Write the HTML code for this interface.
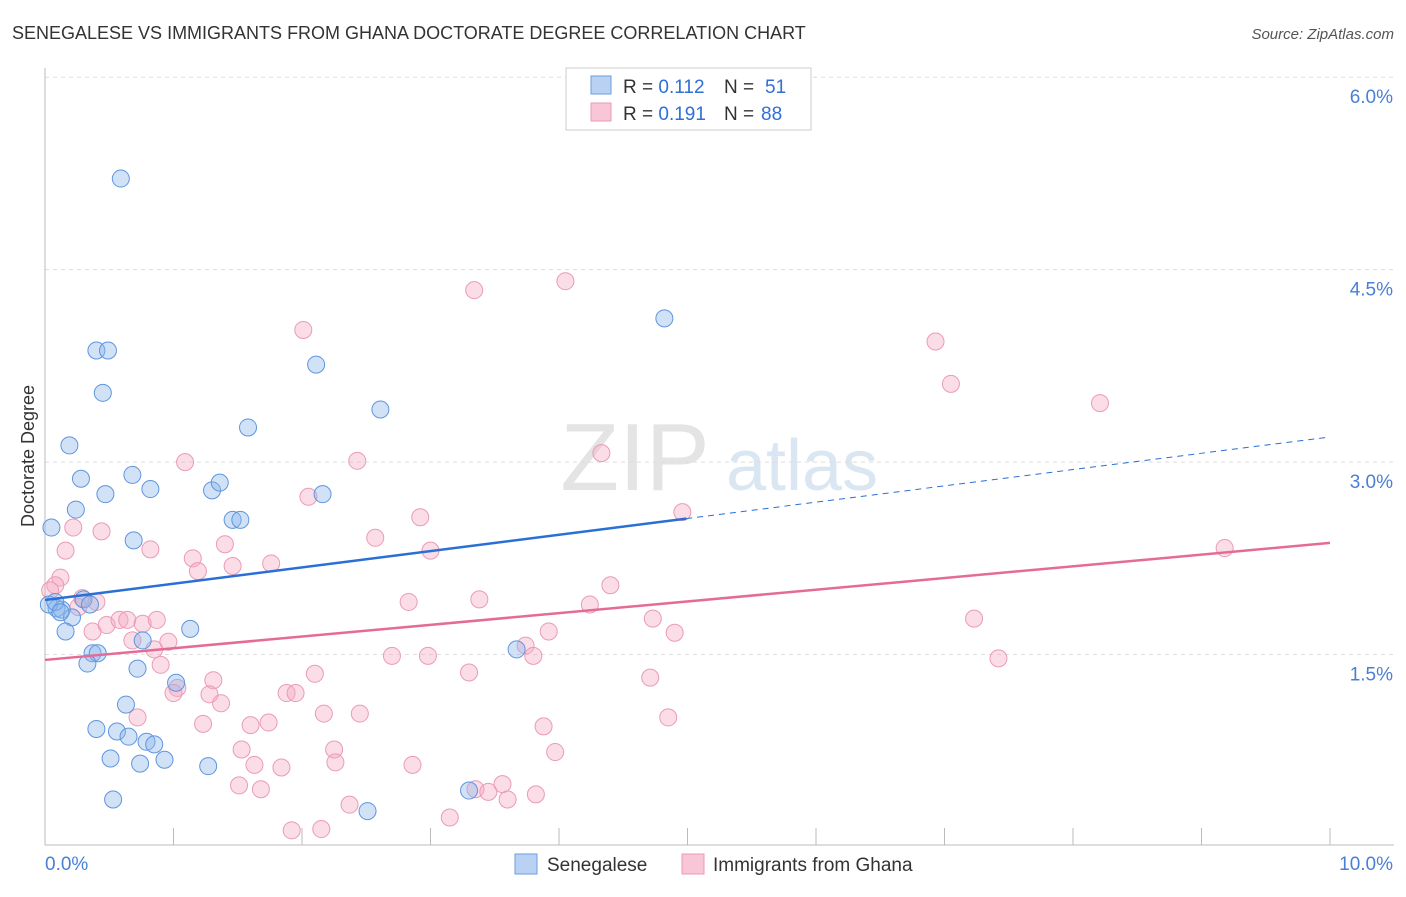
<!DOCTYPE html>
<html><head><meta charset="utf-8"><style>
body{margin:0;background:#fff;font-family:"Liberation Sans",sans-serif}
svg text{font-family:"Liberation Sans",sans-serif}
</style></head><body>
<svg id="c" width="1406" height="892">
<text x="12" y="39" font-size="18" fill="#333">SENEGALESE VS IMMIGRANTS FROM GHANA DOCTORATE DEGREE CORRELATION CHART</text>
<text x="1394" y="39" font-size="15" fill="#555" font-style="italic" text-anchor="end">Source: ZipAtlas.com</text>
<text x="34" y="456" font-size="18" fill="#333" text-anchor="middle" transform="rotate(-90 34 456)">Doctorate Degree</text>
<g><text x="635" y="490" font-size="96" fill="#e4e4e4" font-family="Liberation Serif" text-anchor="middle">ZIP</text><text x="802" y="490" font-size="72" fill="#dbe6f3" text-anchor="middle">atlas</text></g>
<g id="grid"></g><g id="axes"></g><g id="pts"></g><g id="trend"></g>
<g>
<rect x="566" y="68" width="245" height="62" fill="#fff" stroke="#ccc"/>
<rect x="591" y="76" width="20" height="18" fill="#b9d2f3" stroke="#6b9de0"/>
<rect x="591" y="103" width="20" height="18" fill="#f8c6d6" stroke="#eb9bb5"/>
<text x="623" y="93" font-size="19" fill="#333">R = <tspan fill="#2f6fd6">0.112</tspan></text><text x="724" y="93" font-size="19" fill="#333">N =</text><text x="765" y="93" font-size="19" fill="#2f6fd6">51</text>
<text x="623" y="120" font-size="19" fill="#333">R = <tspan fill="#2f6fd6">0.191</tspan></text><text x="724" y="120" font-size="19" fill="#333">N =</text><text x="761" y="120" font-size="19" fill="#2f6fd6">88</text>
</g>
<g>
<rect x="515" y="854" width="22" height="20" fill="#b9d2f3" stroke="#6b9de0"/>
<text x="547" y="871" font-size="19" fill="#333">Senegalese</text>
<rect x="682" y="854" width="22" height="20" fill="#f8c6d6" stroke="#eb9bb5"/>
<text x="713" y="871" font-size="19" fill="#333">Immigrants from Ghana</text>
</g>
</svg>
<script>
const yTicks=[1.5,3.0,4.5,6.0];
const yTickLabels=["1.5%","3.0%","4.5%","6.0%"];
const xTicks=[1,2,3,4,5,6,7,8,9,10];
const blueX=[0.59,0.40,0.49,0.45,0.19,0.28,0.47,0.68,0.82,0.24,0.05,0.69,1.30,1.36,1.46,1.52,1.58,2.11,2.16,2.61,4.82,0.09,0.13,0.30,0.35,0.21,0.16,0.76,1.13,0.37,0.41,0.33,0.72,1.02,0.63,0.40,0.56,0.65,0.79,0.85,0.51,0.74,0.93,1.27,0.53,2.51,3.30,3.67,0.03,0.08,0.12];
const blueY=[5.21,3.87,3.87,3.54,3.13,2.87,2.75,2.90,2.79,2.63,2.49,2.39,2.78,2.84,2.55,2.55,3.27,3.76,2.75,3.41,4.12,1.86,1.85,1.93,1.89,1.79,1.68,1.61,1.70,1.51,1.51,1.43,1.39,1.28,1.11,0.92,0.90,0.86,0.82,0.80,0.69,0.65,0.68,0.63,0.37,0.28,0.44,1.54,1.89,1.91,1.83];
const pinkX=[2.01,3.34,4.05,1.09,2.43,6.93,7.05,8.21,4.33,2.92,2.05,4.96,0.44,0.22,0.16,0.82,1.15,1.40,1.19,1.46,1.76,2.57,3.00,9.18,0.12,0.08,0.04,4.40,4.24,3.38,2.83,0.40,0.29,0.26,0.37,0.48,0.58,0.64,0.76,0.87,0.96,0.68,0.85,0.90,1.31,1.03,1.00,1.28,1.37,1.88,1.95,2.10,2.70,2.98,3.30,3.74,3.80,3.92,4.73,4.90,7.23,7.42,4.71,4.85,0.72,1.23,1.60,1.74,2.17,2.45,3.88,1.53,2.25,2.26,1.63,1.84,2.86,3.97,1.51,1.68,3.35,3.45,3.56,3.60,3.82,2.37,1.92,2.15,3.15];
const pinkY=[4.03,4.34,4.41,3.00,3.01,3.94,3.61,3.46,3.07,2.57,2.73,2.61,2.46,2.49,2.31,2.32,2.25,2.36,2.15,2.19,2.21,2.41,2.31,2.33,2.10,2.04,2.00,2.04,1.89,1.93,1.91,1.91,1.94,1.87,1.68,1.73,1.77,1.77,1.74,1.77,1.60,1.61,1.54,1.42,1.30,1.24,1.20,1.19,1.12,1.20,1.20,1.35,1.49,1.49,1.36,1.57,1.49,1.68,1.78,1.67,1.78,1.47,1.32,1.01,1.01,0.96,0.95,0.97,1.04,1.04,0.94,0.76,0.76,0.66,0.64,0.62,0.64,0.74,0.48,0.45,0.45,0.43,0.49,0.37,0.41,0.33,0.13,0.14,0.23];
const blueTrend=[1.925,3.196], blueSolidEnd=4.99;
const pinkTrend=[1.458,2.37];
const X=v=>45+v*128.5, Y=v=>847-v*128.3;
const NS="http://www.w3.org/2000/svg";
function mk(t,a,p){const e=document.createElementNS(NS,t);for(const k in a)e.setAttribute(k,a[k]);p.appendChild(e);return e;}
const grid=document.getElementById('grid'),axes=document.getElementById('axes'),pts=document.getElementById('pts'),tr=document.getElementById('trend');
yTicks.forEach((t,i)=>{
 const l=mk('line',{x1:45,x2:1394,y1:Y(t),y2:Y(t),stroke:'#ddd','stroke-dasharray':'4,4'},grid);
 
 
 const tx=mk('text',{x:1393,y:Y(t)+26,'font-size':19,fill:'#4a7fd4','text-anchor':'end'},axes);
 tx.textContent=yTickLabels[i];
 
 
});
const ya=mk('line',{x1:45,x2:45,y1:68,y2:845,stroke:'#bbb'},axes);


const xa=mk('line',{x1:45,x2:1394,y1:845,y2:845,stroke:'#bbb'},axes);


xTicks.forEach(t=>{
 const l=mk('line',{x1:X(t),x2:X(t),y1:828,y2:845,stroke:'#bbb'},axes);
 
 
});
const x0=mk('text',{x:45,y:870,'font-size':19,fill:'#4a7fd4'},axes);x0.textContent='0.0%';


const x1=mk('text',{x:1393,y:870,'font-size':19,fill:'#4a7fd4','text-anchor':'end'},axes);x1.textContent='10.0%';


function dots(xs,ys,fill,stroke,name){xs.forEach((v,i)=>{
 const c=mk('circle',{cx:X(v),cy:Y(ys[i]),r:8.5,fill:fill,stroke:stroke,'stroke-width':1},pts);
 
 
});}
dots(pinkX,pinkY,'rgba(244,170,195,0.4)','#eb9bb5','ghana-point');
dots(blueX,blueY,'rgba(140,182,236,0.4)','#5f95de','senegalese-point');
const by=v=>blueTrend[0]+(blueTrend[1]-blueTrend[0])*v/10;
const b1=mk('line',{x1:X(0),y1:Y(by(0)),x2:X(blueSolidEnd),y2:Y(by(blueSolidEnd)),stroke:'#2a6fd6','stroke-width':2.5},tr);


const b2=mk('line',{x1:X(blueSolidEnd),y1:Y(by(blueSolidEnd)),x2:X(10),y2:Y(by(10)),stroke:'#2a6fd6','stroke-width':1,'stroke-dasharray':'6,5'},tr);


const p1=mk('line',{x1:X(0),y1:Y(pinkTrend[0]),x2:X(10),y2:Y(pinkTrend[1]),stroke:'#e56b97','stroke-width':2.5},tr);


</script>
</body></html>
